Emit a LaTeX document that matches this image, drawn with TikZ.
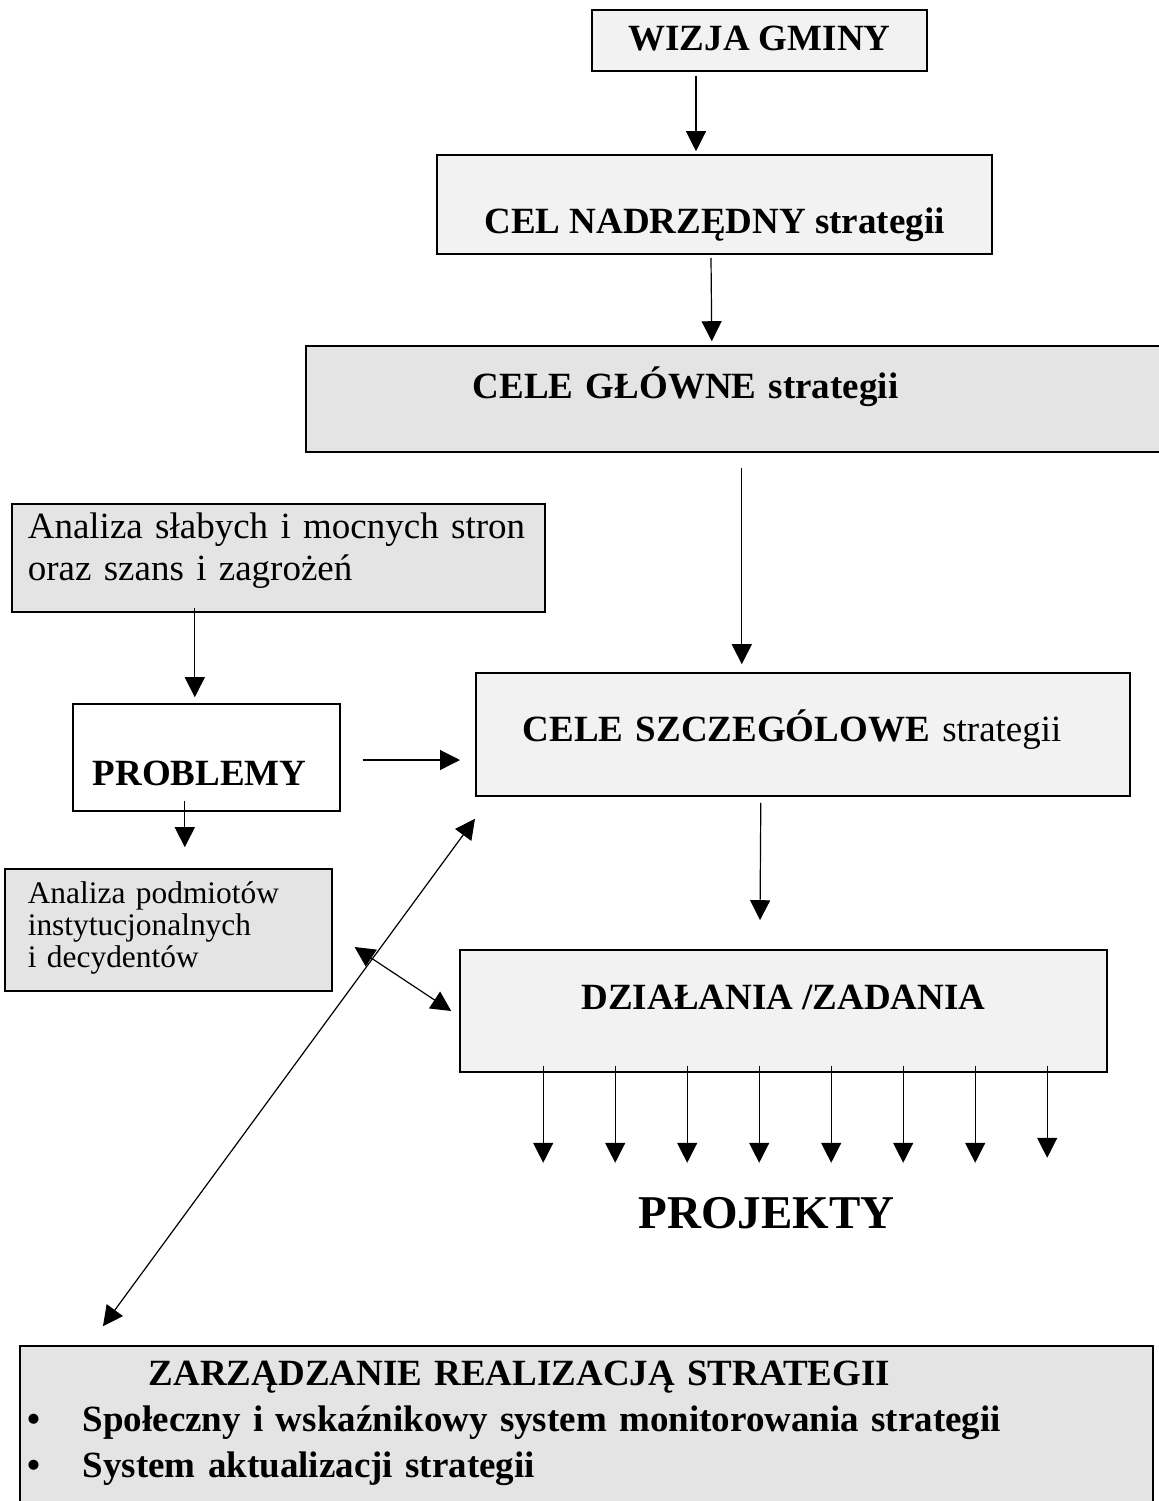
\documentclass[tikz,border=0pt]{standalone}
\usepackage{fontspec}
\setmainfont{Liberation Serif}
\usetikzlibrary{arrows.meta}
\definecolor{boxlight}{HTML}{F2F2F2}
\definecolor{boxdark}{HTML}{E4E4E4}

\begin{document}
\begin{tikzpicture}[x=0.5pt, y=-0.5pt,
  cellbox/.style={draw, line width=0.8pt, inner ysep=0pt, font=\fontsize{18.5}{21}\selectfont},
  light/.style={cellbox, fill=boxlight},
  dark/.style={cellbox, fill=boxdark},
  arr/.style={-{Triangle[length=10pt,width=10pt]}, line width=0.6pt},
  biarr/.style={{Triangle[length=10pt,width=10pt]}-{Triangle[length=10pt,width=10pt]}, line width=0.6pt}]
  \clip (0,0) rectangle (1159,1501);
  % main chain
  \node[light, anchor=base, minimum width=167.5pt, text height=20pt, text depth=10.5pt] (wizja) at (759.5,50) {\textbf{WIZJA GMINY}};
  \node[light, anchor=base, minimum width=277.5pt, text height=39pt, text depth=10.5pt] (nadrz) at (714.5,233) {\textbf{CEL NADRZĘDNY strategii}};
  \node[dark, anchor=base west, inner xsep=83.5pt, text width=261pt, align=left, text height=26pt, text depth=27pt] (glowne) at (305,398) {\textbf{CELE GŁÓWNE strategii}};
  \node[light, anchor=base west, inner xsep=23.5pt, text width=280pt, align=left, text height=34pt, text depth=27.5pt] (szczeg) at (475,741) {\textbf{CELE SZCZEGÓLOWE} strategii};
  \node[light, anchor=base, minimum width=323.5pt, text height=29.5pt, text depth=31.5pt] (dzialania) at (783.5,1009) {\textbf{DZIAŁANIA /ZADANIA}};
  \node[anchor=base, inner sep=0pt, font=\fontsize{23.5}{28}\selectfont\bfseries] (projekty) at (766.5,1228) {PROJEKTY};
  % analysis side
  \node[dark, anchor=base west, inner xsep=8pt, text width=250.5pt, align=left, text height=17pt, text depth=37pt] (slabe) at (11,538) {Analiza słabych i mocnych stron\\ oraz szans i zagrożeń};
  \node[cellbox, fill=white, anchor=base west, inner xsep=10pt, text width=113.5pt, align=left, text height=40.5pt, text depth=13pt] (problemy) at (72,785) {\textbf{PROBLEMY}};
  \node[dark, anchor=base west, inner xsep=11.5pt, text width=140.5pt, align=left, text height=17pt, text depth=44pt, font=\fontsize{15.7}{16}\selectfont] (podmioty) at (4,903) {Analiza podmiotów\\ instytucjonalnych\\ i decydentów};
  % management
  \node[dark, anchor=base west, inner xsep=4pt, text width=558.5pt, align=left, text height=19.5pt, text depth=59pt, font=\fontsize{18.5}{23}\selectfont\bfseries] (zarz) at (19,1385)
    {\hspace*{60.5pt}ZARZĄDZANIE REALIZACJĄ STRATEGII\\
     \makebox[27.5pt][l]{•}Społeczny i wskaźnikowy system monitorowania strategii\\
     \makebox[27.5pt][l]{•}System aktualizacji strategii};
  % arrows
  \draw[arr] ([shift={(-63.5,4)}]wizja.south) -- ([shift={(-18.5,-3)}]nadrz.north);
  \draw[arr] ([shift={(-3.5,3)}]nadrz.south) -- ([shift={(-22,-4)}]glowne.north);
  \draw[arr] ([shift={(8,15)}]glowne.south) -- ([shift={(-61,-8)}]szczeg.north);
  \draw[arr] ([shift={(-83.5,-5)}]slabe.south) -- ([shift={(-11.5,-6)}]problemy.north);
  \draw[arr] ([shift={(22,2.5)}]problemy.east) -- ([shift={(-15,25.5)}]szczeg.west);
  \draw[arr] ([shift={(-21.5,-11)}]problemy.south) -- ([shift={(16.5,-21)}]podmioty.north);
  \draw[arr] ([shift={(-42,6)}]szczeg.south) -- ([shift={(-23.5,-29)}]dzialania.north);
  \draw[biarr] ([shift={(22,17)}]podmioty.east) -- ([shift={(-8,0)}]dzialania.west);
  \draw[biarr] ([shift={(0,22)}]szczeg.south west) -- ([shift={(84,-19)}]zarz.north west);
  % projects
  \foreach \k/\len in {0/90,1/90,2/90,3/90,4/90,5/90,6/90,7/85}{
    \draw[arr] ([shift={({84+72*\k},-7)}]dzialania.south west) -- ([shift={({84+72*\k},\len)}]dzialania.south west);
  }
\end{tikzpicture}
\end{document}
